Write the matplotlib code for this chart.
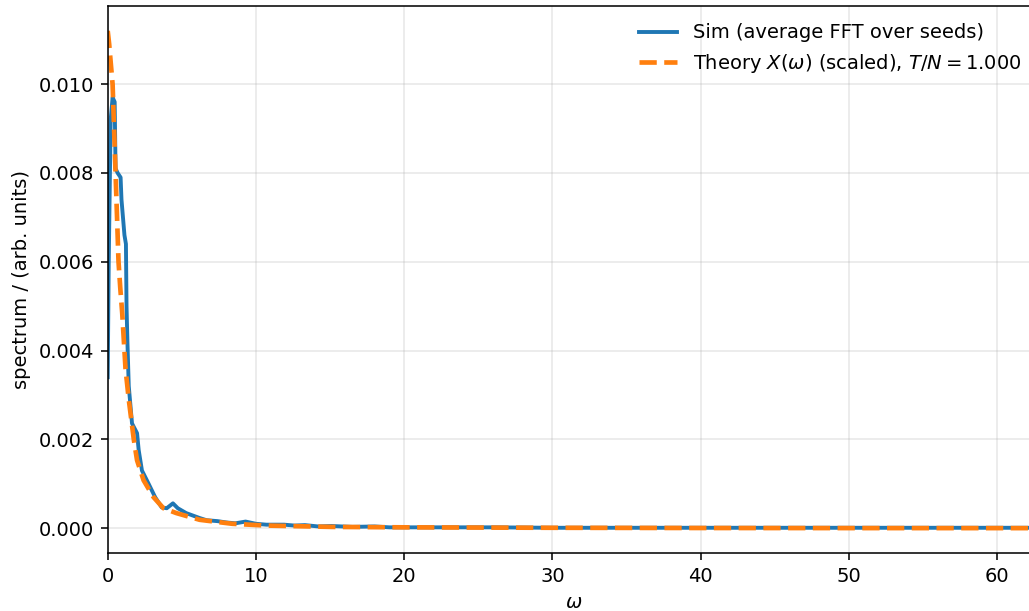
import numpy as np
import matplotlib
matplotlib.use("Agg")
import matplotlib.pyplot as plt

# simulated spectrum (average FFT over seeds)
omega_sim = [0.0, 0.07, 0.2, 0.33, 0.47, 0.53, 0.67, 0.87, 0.93, 1.13, 1.23, 1.27,
             1.33, 1.42, 1.64, 1.98, 2.09, 2.31, 2.76, 3.2, 3.64, 3.98, 4.4, 4.73,
             5.3, 6.2, 6.67, 7.4, 8.0, 8.6, 9.3, 10.0, 10.7, 11.9, 12.6, 13.3, 14.2,
             15.1, 16.5, 18.0, 19.0, 22.0, 26.0, 30.0, 40.0, 50.0, 62.0, 64.0]
spec_sim = [0.0034, 0.0060, 0.0092, 0.0097, 0.0096, 0.0081, 0.0080, 0.0079, 0.0074,
            0.0066, 0.0064, 0.0050, 0.0042, 0.0032, 0.00236, 0.00214, 0.00176, 0.0013,
            0.0010, 0.0007, 0.00047, 0.00045, 0.00056, 0.00045, 0.00034, 0.00023,
            0.00018, 0.00016, 0.00013, 0.00011, 0.00015, 0.00010, 0.00008, 0.00008,
            0.00006, 0.00007, 0.00004, 0.00005, 0.00003, 0.00004, 0.00002, 0.00002,
            0.00002, 0.00001, 0.00001, 0.00001, 0.00001, 0.00001]

# theory X(omega), scaled
omega_th = [0.0, 0.1, 0.2, 0.33, 0.43, 0.53, 0.63, 0.73, 0.85, 0.98, 1.2, 1.42, 1.76,
            1.98, 2.42, 3.09, 3.76, 4.64, 6.2, 8.4, 10.7, 15.1, 20.0, 30.0, 40.0, 50.0,
            64.0]
spec_th = [0.0112, 0.0109, 0.0105, 0.0100, 0.0090, 0.0080, 0.0070, 0.0060, 0.0054,
           0.00484, 0.0036, 0.0029, 0.0020, 0.00153, 0.00108, 0.0007, 0.00045, 0.00034,
           0.00019, 0.0001, 0.00006, 0.00003, 0.00002, 0.00001, 0.000005, 0.000003,
           0.000002]

W, H, DPI = 1029, 611, 140
fig = plt.figure(figsize=(W / DPI, H / DPI), dpi=DPI)
ax = fig.add_axes([107.7 / W, 58 / H, 931.5 / W, 547 / H])

ax.plot(omega_sim, spec_sim, color="#1f77b4", lw=2, label="Sim (average FFT over seeds)")
ax.plot(omega_th, spec_th, "--", color="#ff7f0e", lw=2.4,
        label=r"Theory $X(\omega)$ (scaled), $T/N = 1.000$")

ax.set_xlim(0, 2 * np.pi * 10)
ax.set_xticks([0, 10, 20, 30, 40, 50, 60])
ax.set_xlabel(r"$\omega$")
ax.set_ylabel("spectrum / (arb. units)")
ax.grid(True, alpha=0.3)
ax.legend(loc="upper right", frameon=False)

fig.savefig("out.png", dpi=DPI)
